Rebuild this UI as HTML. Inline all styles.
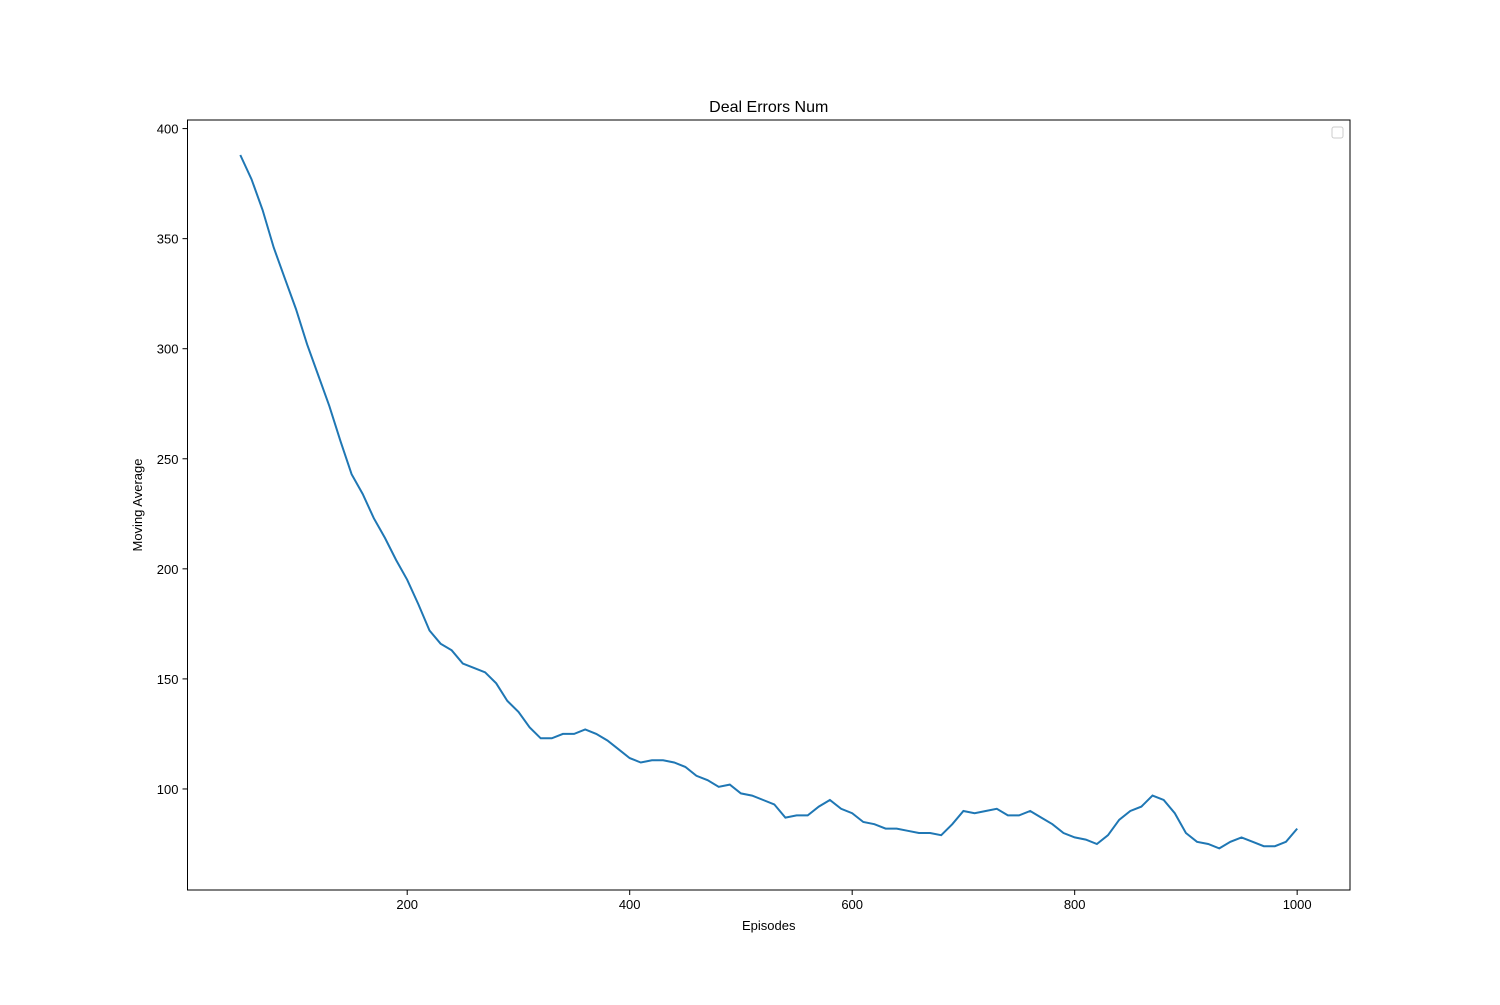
<!DOCTYPE html>
<html><head><meta charset="utf-8"><style>body{margin:0;background:#fff}svg{font-family:"Liberation Sans","DejaVu Sans",sans-serif}</style></head>
<body>
<svg id="chart" width="1500" height="1000" viewBox="0 0 1500 1000">
<rect width="1500" height="1000" fill="#fff"/>
<text x="768.75" y="112" font-size="16" text-anchor="middle">Deal Errors Num</text>
<g id="xt"></g>
<g id="yt"></g>
<path id="line" fill="none" stroke="#1f77b4" stroke-width="2"/>
<rect x="187.5" y="120" width="1162.5" height="770" fill="none" stroke="#000" stroke-width="1"/>
<rect x="1332" y="127" width="11" height="11" rx="2" fill="#fff" stroke="#ccc"/>
<text x="768.75" y="930" font-size="13" text-anchor="middle">Episodes</text>
<text transform="translate(142,505) rotate(-90)" font-size="13" text-anchor="middle">Moving Average</text>
</svg>
<script>
const episodes=[50,60,70,80,90,100,110,120,130,140,150,160,170,180,190,200,210,220,230,240,250,260,270,280,290,300,310,320,330,340,350,360,370,380,390,400,410,420,430,440,450,460,470,480,490,500,510,520,530,540,550,560,570,580,590,600,610,620,630,640,650,660,670,680,690,700,710,720,730,740,750,760,770,780,790,800,810,820,830,840,850,860,870,880,890,900,910,920,930,940,950,960,970,980,990,1000];
const values=[388,377,363,346,332,318,302,288,274,258,243,234,223,214,204,195,184,172,166,163,157,155,153,148,140,135,128,123,123,125,125,127,125,122,118,114,112,113,113,112,110,106,104,101,102,98,97,95,93,87,88,88,92,95,91,89,85,84,82,82,81,80,80,79,84,90,89,90,91,88,88,90,87,84,80,78,77,75,79,86,90,92,97,95,89,80,76,75,73,76,78,76,74,74,76,82];
const xTicks=[200,400,600,800,1000];
const yTicks=[100,150,200,250,300,350,400];
const X0=2.5,X1=1047.5,Y0=54.1,Y1=403.9;
const L=187.5,R=1350,T=120,B=890;
const sx=v=>L+(v-X0)/(X1-X0)*(R-L);
const sy=v=>B-(v-Y0)/(Y1-Y0)*(B-T);
const ns="http://www.w3.org/2000/svg";
let d="";
episodes.forEach((e,i)=>{d+=(i?"L":"M")+sx(e).toFixed(1)+","+sy(values[i]).toFixed(1);});
document.getElementById("line").setAttribute("d",d);
const xt=document.getElementById("xt");
xTicks.forEach(t=>{
 const l=document.createElementNS(ns,"line");
 
 
 l.setAttribute("x1",sx(t));l.setAttribute("x2",sx(t));l.setAttribute("y1",B);l.setAttribute("y2",B+5);l.setAttribute("stroke","#000");
 xt.appendChild(l);
 const tx=document.createElementNS(ns,"text");
 
 
 tx.setAttribute("x",sx(t));tx.setAttribute("y",B+19);tx.setAttribute("font-size","13");tx.setAttribute("text-anchor","middle");
 tx.textContent=t;xt.appendChild(tx);
});
const yt=document.getElementById("yt");
yTicks.forEach(t=>{
 const l=document.createElementNS(ns,"line");
 
 
 l.setAttribute("x1",L-5);l.setAttribute("x2",L);l.setAttribute("y1",sy(t));l.setAttribute("y2",sy(t));l.setAttribute("stroke","#000");
 yt.appendChild(l);
 const tx=document.createElementNS(ns,"text");
 
 
 tx.setAttribute("x",L-9);tx.setAttribute("y",sy(t)+5);tx.setAttribute("font-size","13");tx.setAttribute("text-anchor","end");
 tx.textContent=t;yt.appendChild(tx);
});
</script>
</body></html>
